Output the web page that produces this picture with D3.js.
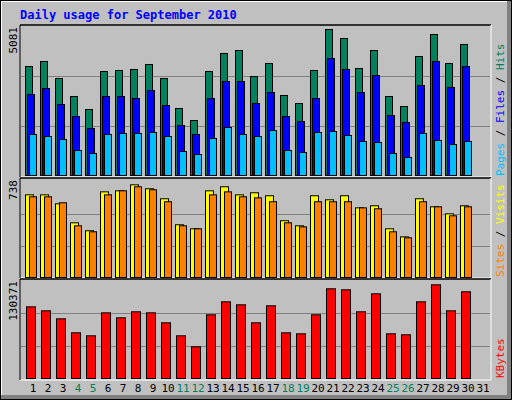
<!DOCTYPE html>
<html>
<head>
<meta charset="utf-8">
<script src="https://cdn.jsdelivr.net/npm/d3@7"></script>
<style>
  body { margin: 0; background: #fff; }
  text { font-family: "DejaVu Sans Mono", monospace; }
</style>
</head>
<body>
<div id="chart"></div>
<script>
// Dữ liệu
const days = d3.range(1, 32);
const weekends = [4, 5, 11, 12, 18, 19, 25, 26];
const hits = [3726, 3896, 3320, 2710, 2270, 3557, 3591, 3625, 3794, 3320, 2304, 1897, 3557, 4167, 4268,
  3387, 3828, 2744, 2473, 3591, 4980, 4675, 3658, 4268, 2710, 2371, 4065, 4810, 3828, 4472];
const files = [2778, 2981, 2439, 2032, 1626, 2710, 2710, 2642, 2913, 2405, 1728, 1423, 2642, 3218, 3218,
  2473, 2846, 2032, 1863, 2642, 3997, 3625, 2846, 3421, 2066, 1829, 3083, 3896, 3015, 3726];
const pages = [1423, 1355, 1253, 881, 779, 1423, 1457, 1457, 1491, 1355, 847, 745, 1287, 1660, 1423,
  1355, 1558, 881, 813, 1491, 1524, 1389, 1186, 1152, 779, 644, 1457, 1220, 1084, 1186];
const visits = [643, 643, 574, 428, 367, 666, 674, 720, 690, 613, 413, 382, 674, 705, 643,
  659, 636, 444, 405, 636, 605, 636, 543, 559, 382, 320, 613, 551, 497, 559];
const sites = [628, 628, 582, 405, 359, 643, 674, 705, 682, 590, 405, 382, 643, 666, 628,
  620, 590, 428, 397, 590, 590, 590, 543, 536, 359, 313, 590, 551, 482, 551];
const kbytes = [95700, 90450, 79900, 61500, 57550, 87800, 81250, 89150, 87800, 74650, 57550, 43050, 85200, 102300, 98350,
  74650, 97050, 61500, 60150, 85200, 119450, 118100, 89150, 112850, 60150, 58850, 102300, 124700, 90450, 115500];
const maxHits = 5081, maxVisits = 738, maxKB = 130371;

const W = 512, H = 400;
const svg = d3.select("#chart").append("svg").attr("width", W).attr("height", H);

// Khung ngoài
svg.append("rect").attr("x", 0).attr("y", 0).attr("width", W).attr("height", H).attr("fill", "#000");
svg.append("rect").attr("x", 1).attr("y", 1).attr("width", W - 2).attr("height", H - 2).attr("fill", "#808080");
svg.append("rect").attr("x", 1).attr("y", 1).attr("width", W - 6).attr("height", H - 6).attr("fill", "#fff");
svg.append("rect").attr("x", 2).attr("y", 2).attr("width", W - 7).attr("height", H - 7).attr("fill", "#c0c0c0");

svg.append("text").attr("x", 20).attr("y", 19).attr("fill", "#0000ff")
  .attr("font-size", "12px").attr("font-weight", "bold").text("Daily usage for September 2010");

const x = d3.scaleBand().domain(days).range([25, 25 + 31 * 15]);

const panels = [
  { top: 25, bottom: 177, y0: 176, y1: 26, max: maxHits },
  { top: 178, bottom: 278, y0: 278, y1: 182, max: maxVisits },
  { top: 279, bottom: 380, y0: 379, y1: 280, max: maxKB }
];

panels.forEach(p => {
  p.y = d3.scaleLinear().domain([0, p.max]).range([p.y0, p.y1]);
  svg.append("line").attr("x1", 20).attr("x2", 491).attr("y1", p.top).attr("y2", p.top).attr("stroke", "#000").attr("stroke-width", 1.5);
  svg.append("line").attr("x1", 20).attr("x2", 491).attr("y1", p.bottom).attr("y2", p.bottom).attr("stroke", "#fff");
  svg.append("line").attr("x1", 20).attr("x2", 20).attr("y1", p.top).attr("y2", p.bottom).attr("stroke", "#000");
  svg.append("line").attr("x1", 491).attr("x2", 491).attr("y1", p.top).attr("y2", p.bottom).attr("stroke", "#fff");
  svg.selectAll(null).data([p.max / 3, p.max * 2 / 3]).enter().append("line")
    .attr("x1", 21).attr("x2", 490)
    .attr("y1", d => Math.round(p.y(d)) + 0.5).attr("y2", d => Math.round(p.y(d)) + 0.5)
    .attr("stroke", "#808080");
  svg.append("text")
    .attr("transform", `translate(17,${p.top + 2}) rotate(-90)`)
    .attr("text-anchor", "end").attr("font-size", "11px").attr("fill", "#000")
    .text(p.max);
});

function bars(panel, data, offset, width, color) {
  svg.append("g").selectAll("rect").data(data).enter().append("rect")
    .attr("x", (d, i) => x(days[i]) + offset + 0.5)
    .attr("y", d => panel.y(d) + 0.5)
    .attr("width", width)
    .attr("height", d => panel.y0 - panel.y(d) - 1)
    .attr("fill", color).attr("stroke", "#000");
}

bars(panels[0], hits, 0, 7, "#00805c");
bars(panels[0], files, 2, 7, "#0000ff");
bars(panels[0], pages, 4, 7, "#00c0ff");
bars(panels[1], visits, 0, 8, "#ffff00");
bars(panels[1], sites, 4, 7, "#ff8000");
bars(panels[2], kbytes, 1, 9, "#ff0000");

// Nhãn bên phải
function sideLabel(y, parts) {
  const t = svg.append("text")
    .attr("transform", `translate(504,${y}) rotate(-90)`)
    .attr("font-size", "11px");
  parts.forEach(([s, c]) => t.append("tspan").attr("fill", c).text(s));
}
sideLabel(176, [["Pages", "#00c0ff"], [" / ", "#000"], ["Files", "#0000ff"], [" / ", "#000"], ["Hits", "#00805c"]]);
sideLabel(277, [["Sites", "#ff8000"], [" / ", "#000"], ["Visits", "#ffff00"]]);
sideLabel(378, [["KBytes", "#ff0000"]]);

// Trục X
svg.append("g").selectAll("text").data(days).enter().append("text")
  .attr("x", d => x(d) + 8).attr("y", 392)
  .attr("text-anchor", "middle").attr("font-size", "11px")
  .attr("fill", d => weekends.includes(d) ? "#00805c" : "#000")
  .text(d => d);
</script>
</body>
</html>
